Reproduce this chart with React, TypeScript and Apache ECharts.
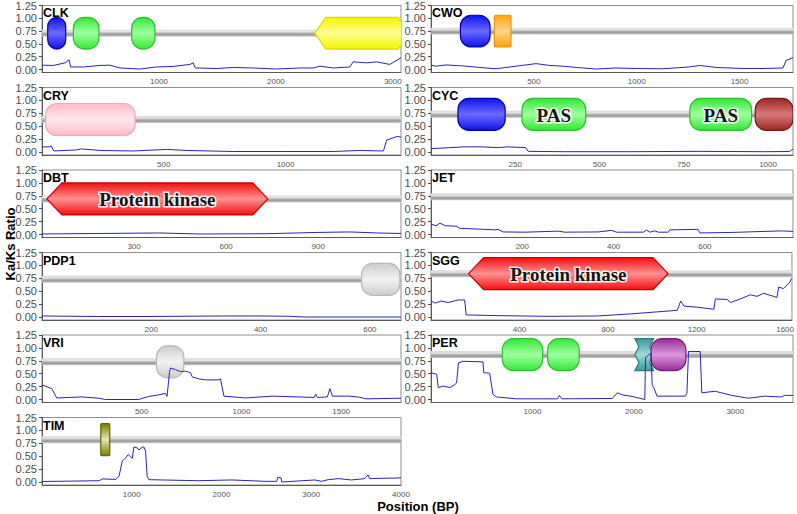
import React, { useEffect, useRef } from 'react';
import * as echarts from 'echarts';

const SANS = '"Liberation Sans", Arial, Helvetica, sans-serif';
const SERIF = '"Liberation Serif", "Times New Roman", serif';

// ---- genes, lengths, tick steps ----
const genes = ['CLK', 'CWO', 'CRY', 'CYC', 'DBT', 'JET', 'PDP1', 'SGG', 'VRI', 'PER', 'TIM'];
const geneLengths = [3070, 1760, 1474, 1074, 1170, 793, 657, 1631, 1800, 3569, 4000];
const tickSteps = [1000, 500, 500, 250, 300, 200, 200, 400, 500, 1000, 1000];
// y level of the grey protein backbone in each panel
const backboneLevel = [0.71, 0.75, 0.63, 0.73, 0.69, 0.73, 0.73, 0.84, 0.73, 0.87, 0.82];
const yTicks = [0, 0.25, 0.5, 0.75, 1, 1.25];

// ---- sliding-window Ka/Ks ----
const clkPos = [0, 97, 197, 231, 245, 353, 496, 581, 667, 838, 980, 1122, 1265, 1293, 1311, 1493, 1635, 1806, 2006, 2205, 2319, 2376, 2490, 2632, 2661, 2775, 2860, 2974, 3070];
const clkRatio = [0.085, 0.08, 0.13, 0.19, 0.05, 0.05, 0.08, 0.085, 0.03, 0.01, 0.05, 0.06, 0.1, 0.13, 0.03, 0.02, 0.04, 0.03, 0.01, 0.03, 0.03, 0.065, 0.03, 0.05, 0.15, 0.13, 0.15, 0.1, 0.23];

const cwoPos = [0, 24, 73, 154, 268, 316, 413, 511, 576, 641, 738, 803, 900, 998, 1127, 1257, 1306, 1387, 1517, 1614, 1711, 1727, 1760];
const cwoRatio = [0.085, 0.065, 0.09, 0.07, 0.03, 0.015, 0.065, 0.115, 0.08, 0.065, 0.03, 0.01, 0.03, 0.02, 0.015, 0.05, 0.08, 0.04, 0.02, 0.02, 0.03, 0.18, 0.23];

const cryPos = [0, 32, 38, 48, 141, 162, 237, 374, 511, 593, 785, 990, 1195, 1306, 1402, 1415, 1457, 1474];
const cryRatio = [0.1, 0.1, 0.12, 0.02, 0.04, 0.06, 0.03, 0.02, 0.05, 0.03, 0.01, 0.01, 0.01, 0.03, 0.02, 0.23, 0.3, 0.29];

const cycPos = [0, 100, 149, 199, 228, 281, 288, 397, 594, 792, 990, 1064, 1074];
const cycRatio = [0.065, 0.1, 0.1, 0.085, 0.1, 0.085, 0.013, 0.006, 0.006, 0.013, 0.006, 0.01, 0.06];

const dbtPos = [0, 186, 382, 513, 731, 895, 1004, 1091, 1170];
const dbtRatio = [0.01, 0.02, 0.03, 0.01, 0.015, 0.04, 0.05, 0.03, 0.02];

const jetPos = [0, 11, 20, 31, 56, 63, 118, 140, 147, 158, 206, 279, 293, 366, 396, 406, 465, 472, 480, 490, 498, 520, 523, 585, 589, 658, 768, 793];
const jetRatio = [0.2, 0.17, 0.22, 0.17, 0.16, 0.12, 0.1, 0.09, 0.1, 0.05, 0.045, 0.065, 0.045, 0.05, 0.08, 0.045, 0.045, 0.085, 0.045, 0.07, 0.045, 0.045, 0.09, 0.1, 0.03, 0.04, 0.07, 0.06];

const pdp1Pos = [0, 100, 200, 330, 400, 450, 480, 657];
const pdp1Ratio = [0.02, 0.01, 0.01, 0.02, 0.02, 0.015, 0.0, 0.0];

const sggPos = [0, 19, 46, 77, 122, 152, 159, 302, 527, 752, 902, 1023, 1113, 1128, 1143, 1203, 1278, 1285, 1338, 1353, 1398, 1443, 1473, 1503, 1563, 1571, 1593, 1616, 1631];
const sggRatio = [0.31, 0.27, 0.31, 0.28, 0.33, 0.33, 0.04, 0.027, 0.013, 0.02, 0.06, 0.1, 0.13, 0.31, 0.21, 0.19, 0.15, 0.35, 0.34, 0.28, 0.35, 0.43, 0.4, 0.46, 0.38, 0.58, 0.55, 0.65, 0.75];

const vriPos = [0, 16, 49, 74, 200, 284, 318, 485, 535, 585, 619, 627, 639, 644, 669, 694, 720, 745, 753, 786, 820, 887, 895, 912, 1021, 1155, 1289, 1364, 1373, 1381, 1431, 1443, 1456, 1540, 1590, 1624, 1800];
const vriRatio = [0.28, 0.26, 0.21, 0.03, 0.05, 0.025, 0.0, 0.0, 0.06, 0.09, 0.12, 0.06, 0.52, 0.61, 0.58, 0.54, 0.55, 0.52, 0.44, 0.4, 0.38, 0.38, 0.4, 0.065, 0.03, 0.065, 0.05, 0.04, 0.1, 0.04, 0.05, 0.21, 0.065, 0.065, 0.045, 0.013, 0.025];

const perPos = [0, 56, 72, 121, 186, 235, 252, 271, 317, 513, 520, 578, 611, 644, 840, 1248, 1265, 1291, 1787, 1837, 1886, 1983, 2108, 2115, 2170, 2180, 2196, 2229, 2507, 2523, 2539, 2654, 2670, 2801, 2964, 3127, 3291, 3454, 3487, 3569];
const perRatio = [0.52, 0.49, 0.23, 0.26, 0.23, 0.29, 0.32, 0.71, 0.74, 0.73, 0.52, 0.51, 0.1, 0.05, 0.013, 0.013, 0.08, 0.013, 0.02, 0.13, 0.09, 0.06, 0.0, 0.81, 0.9, 0.29, 0.23, 0.065, 0.065, 0.12, 0.93, 0.93, 0.13, 0.16, 0.08, 0.025, 0.065, 0.05, 0.08, 0.08];

const timPos = [0, 636, 673, 821, 858, 895, 932, 961, 987, 1006, 1024, 1061, 1080, 1109, 1135, 1154, 1172, 1191, 1746, 2116, 2486, 2615, 2626, 2664, 2670, 2856, 3041, 3114, 3189, 3300, 3447, 3596, 3633, 3651, 4000];
const timRatio = [0.01, 0.025, 0.06, 0.05, 0.11, 0.41, 0.47, 0.53, 0.49, 0.46, 0.68, 0.66, 0.62, 0.67, 0.68, 0.6, 0.11, 0.045, 0.025, 0.04, 0.013, 0.013, 0.09, 0.08, 0.0, 0.02, 0.04, 0.013, 0.045, 0.065, 0.04, 0.065, 0.14, 0.065, 0.08];

// ---- protein domains: [start, end, kind, label?] ----
const clkDomains = [[49, 203, 'blue'], [268, 487, 'green'], [767, 966, 'green'], [2333, 3140, 'yellow']];
const cwoDomains = [[143, 287, 'blue'], [308, 389, 'orange']];
const cryDomains = [[15, 382, 'pink']];
const cycDomains = [[80, 220, 'blue'], [270, 459, 'green', 'PAS'], [768, 951, 'green', 'PAS'], [962, 1074, 'brown']];
const dbtDomains = [[16, 736, 'red', 'Protein kinase']];
const jetDomains: any[] = [];
const pdp1Domains = [[585, 655, 'grey']];
const sggDomains = [[170, 1071, 'red', 'Protein kinase']];
const vriDomains = [[574, 711, 'grey']];
const perDomains = [[703, 1101, 'green'], [1150, 1461, 'green'], [2010, 2196, 'teal'], [2170, 2513, 'purple']];
const timDomains = [[655, 755, 'olive']];

const positions = [clkPos, cwoPos, cryPos, cycPos, dbtPos, jetPos, pdp1Pos, sggPos, vriPos, perPos, timPos];
const ratios = [clkRatio, cwoRatio, cryRatio, cycRatio, dbtRatio, jetRatio, pdp1Ratio, sggRatio, vriRatio, perRatio, timRatio];
const domains = [clkDomains, cwoDomains, cryDomains, cycDomains, dbtDomains, jetDomains, pdp1Domains, sggDomains, vriDomains, perDomains, timDomains];

// ---- look of each domain kind ----
const LOOK: Record<string, { form: string; base: string; light: string; edge: string; tip?: number }> = {
  blue: { form: 'capsule', base: '#1010ee', light: '#6a6aff', edge: '#0000a8' },
  green: { form: 'capsule', base: '#33e833', light: '#a0ffa0', edge: '#2cc02c' },
  yellow: { form: 'hexagon', base: '#f4f400', light: '#ffff90', edge: '#dada00', tip: 11 },
  orange: { form: 'box', base: '#ffa30a', light: '#ffd591', edge: '#e8940a' },
  pink: { form: 'capsule', base: '#ffbac6', light: '#ffe8ee', edge: '#f2a8b6' },
  brown: { form: 'capsule', base: '#9e2626', light: '#d67878', edge: '#7a1818' },
  red: { form: 'hexagon', base: '#f21010', light: '#ff9090', edge: '#c40000', tip: 15 },
  grey: { form: 'capsule', base: '#cdcdcd', light: '#f2f2f2', edge: '#b8b8b8' },
  teal: { form: 'bowtie', base: '#3a9c9c', light: '#a0d8d8', edge: '#2a8080' },
  purple: { form: 'capsule', base: '#982c98', light: '#dc98dc', edge: '#7a1a7a' },
  olive: { form: 'box', base: '#7c7c00', light: '#e6e6b0', edge: '#646400' },
};

const LEFT_X = [42, 431];
const PANEL_W = [359, 362];
const TOP_Y = [5, 87.5, 170, 252.5, 335, 417.5];
const PANEL_H = 67.5;
const Y_MIN = -0.058;
const Y_MAX = 1.25;
const BAR_HALF = 0.068;
const DOMAIN_HALF = 0.31;

function glossy(look: { base: string; light: string }) {
  return new echarts.graphic.LinearGradient(0, 0, 0, 1, [
    { offset: 0, color: look.base },
    { offset: 0.5, color: look.light },
    { offset: 1, color: look.base },
  ]);
}

function buildOption() {
  const grid: any[] = [];
  const xAxis: any[] = [];
  const yAxis: any[] = [];
  const series: any[] = [];
  const graphic: any[] = [];

  genes.forEach((name, i) => {
    const col = i % 2;
    const row = Math.floor(i / 2);
    const left = LEFT_X[col];
    const top = TOP_Y[row];
    const len = geneLengths[i];
    const step = tickSteps[i];
    const level = backboneLevel[i];

    grid.push({
      left, top, width: PANEL_W[col], height: PANEL_H,
      show: true, borderColor: '#8f8f8f', borderWidth: 1, backgroundColor: '#ffffff',
    });
    xAxis.push({
      gridIndex: i, type: 'value', min: 0, max: len, interval: step,
      axisLine: { onZero: false, lineStyle: { color: '#5a5a5a', width: 1 } },
      axisTick: { show: false },
      splitLine: { show: false },
      axisLabel: {
        fontSize: 8, color: '#555555', fontFamily: SANS, margin: 5, hideOverlap: false,
        formatter: (v: number) => (v > 0 && v % step === 0 ? String(v) : ''),
      },
    });
    yAxis.push({
      gridIndex: i, type: 'value', min: Y_MIN, max: Y_MAX,
      axisLine: { show: true, onZero: false, lineStyle: { color: '#5a5a5a', width: 1 } },
      axisTick: { show: true, length: 3, lineStyle: { color: '#4d4d4d' }, customValues: yTicks },
      splitLine: { show: false },
      axisLabel: {
        customValues: yTicks, fontSize: 11, color: '#4d4d4d', fontFamily: SANS, margin: 5,
        formatter: (v: number) => v.toFixed(2),
      },
    });

    // grey backbone
    series.push({
      type: 'custom', xAxisIndex: i, yAxisIndex: i, z: 1, clip: true, silent: true,
      data: [[0, len]],
      renderItem: (_p: any, api: any) => {
        const a = api.coord([0, level + BAR_HALF]);
        const b = api.coord([len, level - BAR_HALF]);
        return {
          type: 'rect',
          shape: { x: a[0], y: a[1], width: b[0] - a[0], height: b[1] - a[1] },
          style: {
            fill: new echarts.graphic.LinearGradient(0, 0, 0, 1, [
              { offset: 0, color: '#d9d9d9' },
              { offset: 0.3, color: '#e4e4e4' },
              { offset: 0.55, color: '#a9a9a9' },
              { offset: 0.75, color: '#9c9c9c' },
              { offset: 1, color: '#d2d2d2' },
            ]),
          },
        };
      },
    });

    // domains
    const doms = domains[i];
    if (doms.length) {
      series.push({
        type: 'custom', xAxisIndex: i, yAxisIndex: i, z: 2, clip: true, silent: true,
        data: doms.map((d: any[]) => [d[0], d[1]]),
        renderItem: (params: any, api: any) => {
          const d = doms[params.dataIndex];
          const look = LOOK[d[2]];
          const p1 = api.coord([d[0], level + DOMAIN_HALF]);
          const p2 = api.coord([d[1], level - DOMAIN_HALF]);
          const x = p1[0];
          const y = p1[1];
          const w = p2[0] - p1[0];
          const h = p2[1] - p1[1];
          const style = { fill: glossy(look), stroke: look.edge, lineWidth: 1.2 };
          const children: any[] = [];
          if (look.form === 'capsule') {
            children.push({ type: 'rect', shape: { x, y, width: w, height: h, r: Math.min(11, w / 2, h / 2) }, style });
          } else if (look.form === 'box') {
            children.push({ type: 'rect', shape: { x, y, width: w, height: h, r: 1 }, style });
          } else if (look.form === 'hexagon') {
            const tip = Math.min(look.tip || 12, w / 4);
            children.push({
              type: 'polygon',
              shape: { points: [[x, y + h / 2], [x + tip, y], [x + w - tip, y], [x + w, y + h / 2], [x + w - tip, y + h], [x + tip, y + h]] },
              style,
            });
          } else if (look.form === 'bowtie') {
            const n = w * 0.22;
            children.push({
              type: 'polygon',
              shape: {
                points: [
                  [x, y], [x + w, y], [x + w - n, y + h * 0.25], [x + w, y + h * 0.5], [x + w - n, y + h * 0.75], [x + w, y + h],
                  [x, y + h], [x + n, y + h * 0.75], [x, y + h * 0.5], [x + n, y + h * 0.25],
                ],
              },
              style,
            });
          }
          if (d[3]) {
            children.push({
              type: 'text',
              x: x + w / 2,
              y: y + h / 2 + 1,
              style: {
                text: d[3], font: `bold 19px ${SERIF}`, fill: '#151515',
                align: 'center', verticalAlign: 'middle',
                stroke: 'rgba(255,255,255,0.9)', lineWidth: 3,
              },
            });
          }
          return { type: 'group', children };
        },
      });
    }

    // Ka/Ks line
    series.push({
      type: 'line', xAxisIndex: i, yAxisIndex: i, z: 3, silent: true,
      showSymbol: false, symbol: 'none',
      data: positions[i].map((p, k) => [p, ratios[i][k]]),
      lineStyle: { color: '#2626b8', width: 1 },
    });

    graphic.push({
      type: 'text', x: left + 1, y: top + 1.5, silent: true, z: 10,
      style: { text: name, font: `bold 12.5px ${SANS}`, fill: '#000000', verticalAlign: 'top' },
    });
  });

  graphic.push({
    type: 'text', x: 418, y: 506, silent: true,
    style: { text: 'Position (BP)', font: `bold 13px ${SANS}`, fill: '#000', align: 'center', verticalAlign: 'middle' },
  });
  graphic.push({
    type: 'text', x: 10, y: 244, rotation: Math.PI / 2, silent: true,
    style: { text: 'Ka/Ks Ratio', font: `bold 13px ${SANS}`, fill: '#000', align: 'center', verticalAlign: 'middle' },
  });

  return { animation: false, backgroundColor: '#ffffff', grid, xAxis, yAxis, series, graphic };
}

export default function App() {
  const ref = useRef<HTMLDivElement>(null);
  useEffect(() => {
    if (!ref.current) return;
    const chart = echarts.init(ref.current, undefined, { renderer: 'svg' });
    chart.setOption(buildOption());
    return () => chart.dispose();
  }, []);
  return <div ref={ref} style={{ position: 'absolute', left: 0, top: 0, width: 797, height: 514 }} />;
}
